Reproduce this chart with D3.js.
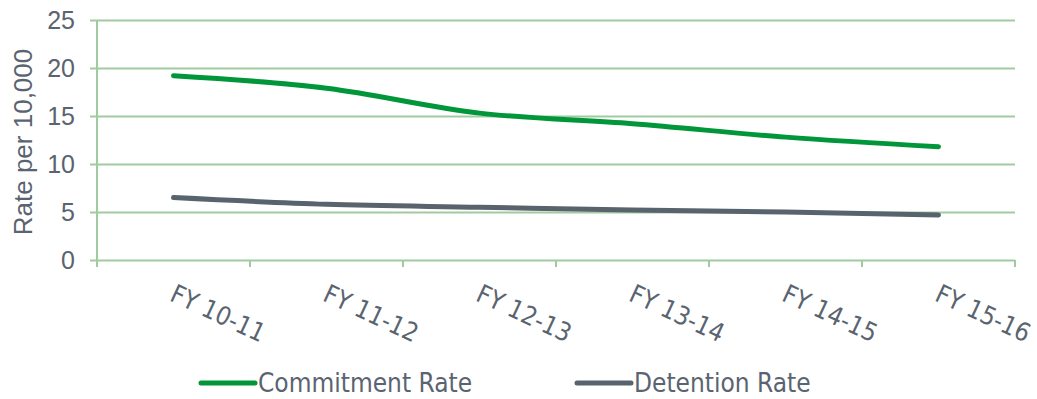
<!DOCTYPE html>
<html>
<head>
<meta charset="utf-8">
<script src="https://cdn.jsdelivr.net/npm/d3@7"></script>
<style>
  body { margin: 0; background: #fff; }
  svg { display: block; }
</style>
</head>
<body>
<svg id="chart" width="1037" height="399"></svg>
<script>
// Fiscal years along the x axis
const categories = ["FY 10-11", "FY 11-12", "FY 12-13", "FY 13-14", "FY 14-15", "FY 15-16"];
// Rates per 10,000
const commitmentRate = [19.2, 17.9, 15.3, 14.2, 12.8, 11.8];
const detentionRate = [6.5, 5.8, 5.5, 5.2, 5.0, 4.7];
const yTicks = [0, 5, 10, 15, 20, 25];
const seriesNames = ["Commitment Rate", "Detention Rate"];

const green = "#009639";
const slate = "#59636e";
const gridColor = "#9fcb9f";
const textColor = "#5a6470";
const condensed = "'DejaVu Sans Condensed', 'DejaVu Sans', sans-serif";

const svg = d3.select("#chart");
const margin = { left: 97, right: 22, top: 20, bottom: 139 };
const W = 1037, H = 399;

const x = d3.scaleBand().domain(categories).range([margin.left, W - margin.right]).padding(0);
const y = d3.scaleLinear().domain([0, 25]).range([H - margin.bottom, margin.top]);

// Horizontal gridlines with short tick stubs on the left
const yAxis = d3.axisLeft(y).tickValues(yTicks).tickSize(0);
const gy = svg.append("g").attr("transform", `translate(${margin.left},0)`).call(yAxis);
gy.select(".domain").remove();
gy.selectAll(".tick line").attr("stroke", gridColor).attr("stroke-width", 2).attr("x1", -7).attr("x2", W - margin.right - margin.left);
gy.selectAll(".tick text").attr("fill", textColor).attr("font-family", "Liberation Sans, Arial, sans-serif").attr("font-size", 25).attr("x", -22);

// Vertical axis line
svg.append("line")
  .attr("x1", margin.left).attr("x2", margin.left)
  .attr("y1", y(25)).attr("y2", y(0) + 7)
  .attr("stroke", gridColor).attr("stroke-width", 2);

// Category boundary ticks along the baseline
const boundaries = categories.map(c => x(c) + x.bandwidth());
svg.append("g").selectAll("line").data(boundaries).join("line")
  .attr("x1", d => d).attr("x2", d => d)
  .attr("y1", y(0)).attr("y2", y(0) + 7)
  .attr("stroke", gridColor).attr("stroke-width", 2);

// Rotated category labels
svg.append("g").selectAll("text").data(categories).join("text")
  .attr("transform", d => `translate(${x(d) + x.bandwidth() / 2 - 5},${y(0) + 40}) rotate(25)`)
  .attr("fill", textColor)
  .attr("font-family", condensed)
  .attr("font-size", 25.5)
  .text(d => d);

// Y axis title
svg.append("text")
  .attr("transform", `translate(32,${(y(0) + y(25)) / 2 + 2}) rotate(-90)`)
  .attr("text-anchor", "middle")
  .attr("fill", textColor)
  .attr("font-family", "Liberation Sans, Arial, sans-serif")
  .attr("font-size", 26)
  .text("Rate per 10,000");

// Smoothed series lines
const line = d3.line()
  .x((d, i) => x(categories[i]) + x.bandwidth() / 2)
  .y(d => y(d))
  .curve(d3.curveMonotoneX);

[[commitmentRate, green], [detentionRate, slate]].forEach(([vals, color]) => {
  svg.append("path")
    .datum(vals)
    .attr("d", line)
    .attr("fill", "none")
    .attr("stroke", color)
    .attr("stroke-width", 5)
    .attr("stroke-linecap", "round")
    .attr("stroke-linejoin", "round");
});

// Legend
const legendItems = [
  { name: seriesNames[0], color: green, x: 201 },
  { name: seriesNames[1], color: slate, x: 577 }
];
const lg = svg.append("g").selectAll("g").data(legendItems).join("g")
  .attr("transform", d => `translate(${d.x},383)`);
lg.append("line")
  .attr("x1", 0).attr("x2", 54)
  .attr("stroke", d => d.color).attr("stroke-width", 5).attr("stroke-linecap", "round");
lg.append("text")
  .attr("x", 57).attr("y", 9)
  .attr("fill", textColor)
  .attr("font-family", condensed)
  .attr("font-size", 26)
  .text(d => d.name);
</script>
</body>
</html>
